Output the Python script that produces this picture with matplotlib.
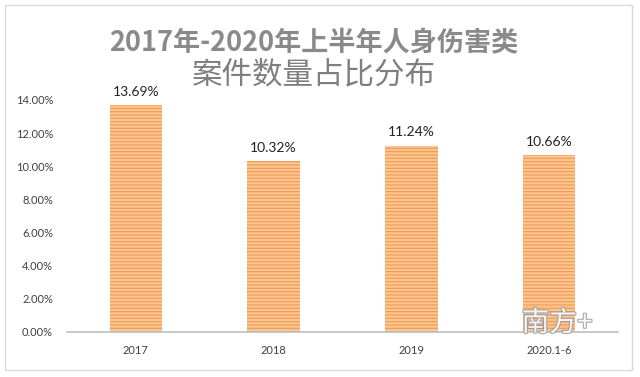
import matplotlib.pyplot as plt
from matplotlib.patches import Rectangle
import matplotlib.patheffects as pe

# data
categories = ["2017", "2018", "2019", "2020.1-6"]
shares = [13.69, 10.32, 11.24, 10.66]
labels = ["13.69%", "10.32%", "11.24%", "10.66%"]
yticks = [0, 2, 4, 6, 8, 10, 12, 14]

plt.rcParams['font.family'] = ['Lato', 'Noto Sans CJK SC', 'DejaVu Sans']
plt.rcParams['hatch.linewidth'] = 0.8

fig = plt.figure(figsize=(6.4, 3.77), dpi=100)
ax = fig.add_axes([67 / 640, 1 - 332 / 377, 551 / 640, 232 / 377])

# outer chart border
fig.patches.append(Rectangle((5 / 640, 7 / 377), 627 / 640, 365 / 377,
                             transform=fig.transFigure, fill=False,
                             edgecolor='#d9d9d9', linewidth=1))

x = range(len(categories))
ax.bar(x, shares, width=0.38, color='#f9c595', edgecolor='#f39a4c',
       hatch='-----', linewidth=0, zorder=2)

for i, (v, t) in enumerate(zip(shares, labels)):
    ax.text(i, v + 0.45, t, ha='center', va='bottom', fontsize=10, color='#222222')

ax.set_xlim(-0.5, len(categories) - 0.5)
ax.set_ylim(0, 14)
ax.set_yticks(yticks)
ax.set_yticklabels([f"{t:.2f}%" for t in yticks])
ax.set_xticks(list(x))
ax.set_xticklabels(categories)
ax.tick_params(axis='both', length=0, labelsize=8, colors='#404040')
ax.tick_params(axis='x', pad=9)
ax.tick_params(axis='y', pad=10)

for s in ['top', 'right', 'left']:
    ax.spines[s].set_visible(False)
ax.spines['bottom'].set_color('#bfbfbf')
ax.spines['bottom'].set_linewidth(1.2)
ax.spines['bottom'].set_zorder(3)

cjk = ['Noto Sans CJK SC', 'DejaVu Sans']
fig.text(0.49, 1 - 43 / 377, "2017年-2020年上半年人身伤害类", ha='center', va='center',
         fontsize=19.5, fontweight='bold', color='#8a8a8a', family=cjk)
fig.text(0.49, 1 - 75 / 377, "案件数量占比分布", ha='center', va='center',
         fontsize=22, color='#7f7f7f', family=cjk)

# watermark
fig.text(557 / 640, 1 - 323 / 377, "南方+", ha='center', va='center',
         fontsize=20, color='white', alpha=0.9, style='italic', family=cjk,
         path_effects=[pe.withStroke(linewidth=1.5, foreground='#9a9a9a')], zorder=5)

fig.savefig("out.png", dpi=100)
